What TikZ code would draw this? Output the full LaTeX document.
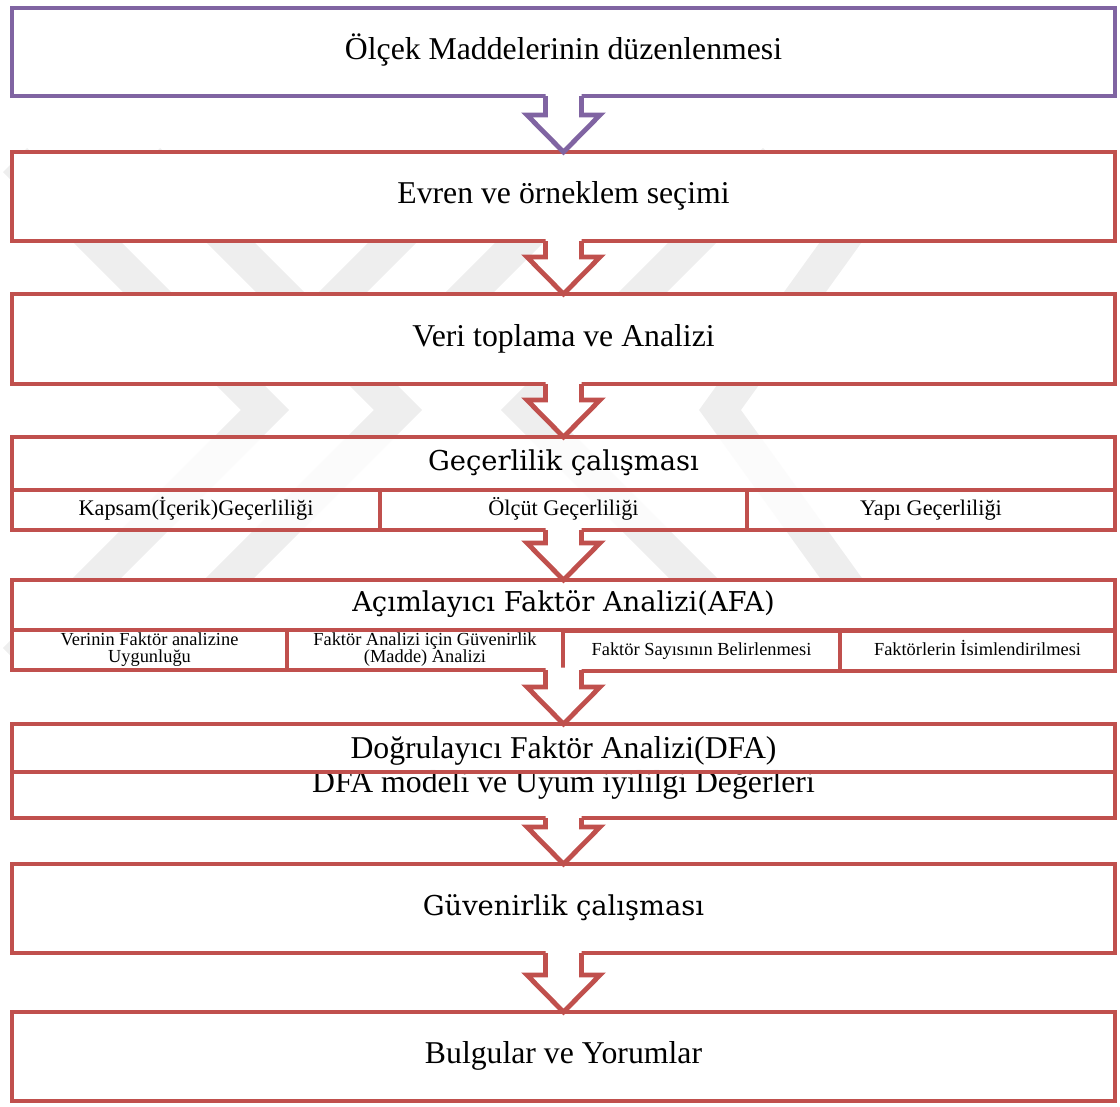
\documentclass[tikz,border=0pt]{standalone}
\usepackage{fontspec}
\setmainfont{Liberation Serif}
\newfontfamily\camfont{DejaVu Serif}
\usetikzlibrary{calc}
\definecolor{boxred}{HTML}{C0504D}
\definecolor{boxpurple}{HTML}{8064A2}
\definecolor{wmgray}{HTML}{EEEEEE}
\newcommand{\fbig}{\fontsize{23.8pt}{25.5pt}\selectfont}
\newcommand{\fcam}{\camfont\fontsize{20.5pt}{24pt}\selectfont}
\newcommand{\fsub}{\fontsize{16.7pt}{19pt}\selectfont}
\newcommand{\fsmall}{\fontsize{13.8pt}{12.8pt}\selectfont}
\tikzset{
  box/.style={draw=boxred, line width=3.6pt, fill=white, minimum width=1103*0.75pt,
    inner sep=0pt, outer sep=0pt, font=\fbig, align=center, text height=16pt, text depth=5pt},
  camtext/.style={font=\fcam, text height=15pt, text depth=5pt},
  cell/.style={draw=boxred, line width=3.6pt, fill=white, inner sep=0pt, outer sep=0pt,
    align=center},
  subtext/.style={font=\fsub, text height=12pt, text depth=4pt},
  smalltext/.style={font=\fsmall},
  smallone/.style={font=\fsmall, text height=10pt, text depth=3pt},
  veil/.style={fill=white, fill opacity=0.8, text opacity=1},
  arrowline/.style={line width=3.6pt, line join=miter, line cap=butt},
  wm/.style={draw=wmgray, line width=34*0.75pt, line cap=butt, line join=miter}
}
\newcommand{\hollowarrow}[3]{%
  \fill[white] let \p1=(#1), \p2=(#2) in
    (\x1-13.5pt,\y1+1.8pt) -- (\x1-13.5pt,\y2+27.75pt) -- (\x1-27.4pt,\y2+27.75pt)
    -- (\x1,\y2) -- (\x1+27.4pt,\y2+27.75pt) -- (\x1+13.5pt,\y2+27.75pt)
    -- (\x1+13.5pt,\y1+1.8pt) -- cycle;
  \draw[arrowline,draw=#3] let \p1=(#1), \p2=(#2) in
    (\x1-13.5pt,\y1) -- (\x1-13.5pt,\y2+27.75pt) -- (\x1-27.4pt,\y2+27.75pt)
    -- (\x1,\y2) -- (\x1+27.4pt,\y2+27.75pt) -- (\x1+13.5pt,\y2+27.75pt)
    -- (\x1+13.5pt,\y1);
}
\begin{document}
\begin{tikzpicture}[x=0.75pt,y=-0.75pt]
\useasboundingbox (0,0) rectangle (1120,1106);
% watermark
\draw[wm] (15,160) -- (265,410) -- (15,660);
\draw[wm] (148,160) -- (398,410) -- (148,660);
\draw[wm] (465,170) -- (305,330);
\draw[wm] (592,170) -- (432,330);
\draw[wm] (775,160) -- (525,410) -- (775,660);
\draw[wm] (900,160) -- (720,410) -- (900,660);
% boxes
\node[box, draw=boxpurple, minimum height=88*0.75pt] (b1) at (563.5,52) {Ölçek Maddelerinin düzenlenmesi};
\node[box, minimum height=89*0.75pt] (b2) at (563.5,196.5) {Evren ve örneklem seçimi};
\node[box, minimum height=90*0.75pt] (b3) at (563.5,339) {Veri toplama ve Analizi};
\node[box, veil, camtext, minimum height=53*0.75pt] (b4) at (563.5,463.5) {Geçerlilik çalışması};
\node[cell, veil, subtext, minimum width=368*0.75pt, minimum height=40*0.75pt] (g1) at (196,510) {Kapsam(İçerik)Geçerliliği};
\node[cell, veil, subtext, minimum width=367*0.75pt, minimum height=40*0.75pt] (g2) at (563.5,510) {Ölçüt Geçerliliği};
\node[cell, veil, subtext, minimum width=368*0.75pt, minimum height=40*0.75pt] (g3) at (931,510) {Yapı Geçerliliği};
\node[box, camtext, minimum height=50*0.75pt] (b5) at (563.5,605) {Açımlayıcı Faktör Analizi(AFA)};
\node[cell, smalltext, minimum width=275*0.75pt, minimum height=40*0.75pt] (a1) at (149.5,650) {Verinin Faktör analizine\\Uygunluğu};
\node[cell, smalltext, minimum width=276*0.75pt, minimum height=40*0.75pt] (a2) at (425,650) {Faktör Analizi için Güvenirlik\\(Madde) Analizi};
\node[cell, smallone, minimum width=277*0.75pt, minimum height=40*0.75pt] (a3) at (701.5,651) {Faktör Sayısının Belirlenmesi};
\node[cell, smallone, minimum width=275*0.75pt, minimum height=40*0.75pt] (a4) at (977.5,651) {Faktörlerin İsimlendirilmesi};
\node[box, minimum height=94*0.75pt] (b6) at (563.5,771) {};
\node[font=\fbig, align=center, inner sep=0pt] (t6) at (563.5,768) {Doğrulayıcı Faktör Analizi(DFA)\\DFA modeli ve Uyum iyililgi Değerleri};
\node[box, fill=none, minimum height=46*0.75pt] (b6s) at (563.5,795) {};
\node[box, camtext, minimum height=89*0.75pt] (b7) at (563.5,908.5) {Güvenirlik çalışması};
\node[box, minimum height=89*0.75pt] (b8) at (563.5,1056.5) {Bulgular ve Yorumlar};
% arrows
\hollowarrow{b1.south}{b2.north}{boxpurple}
\hollowarrow{b2.south}{b3.north}{boxred}
\hollowarrow{b3.south}{b4.north}{boxred}
\hollowarrow{g2.south}{b5.north}{boxred}
\hollowarrow{b5.south |- a1.south}{b6.north}{boxred}
\hollowarrow{b6.south}{b7.north}{boxred}
\hollowarrow{b7.south}{b8.north}{boxred}
\end{tikzpicture}
\end{document}
